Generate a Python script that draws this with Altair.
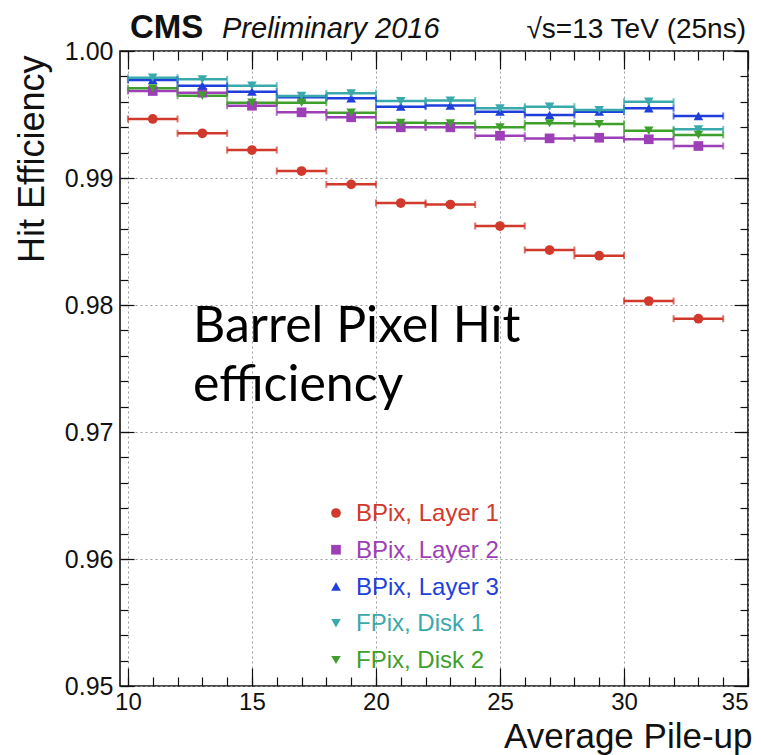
import altair as alt
import pandas as pd

# Average pile-up bin centres (bins are 2 units wide)
pileup = [11, 13, 15, 17, 19, 21, 23, 25, 27, 29, 31, 33]
bin_half_width = 1.0

series_names = ["BPix, Layer 1", "BPix, Layer 2", "BPix, Layer 3", "FPix, Disk 1", "FPix, Disk 2"]
series_colors = ["#d0392b", "#9d3fb6", "#1f3fdc", "#3aa9ab", "#3f9f2c"]
series_shapes = ["circle", "square", "triangle-up", "triangle-down", "triangle-down"]
marker_sizes = [95, 90, 70, 85, 40]
legend_sizes = [55, 55, 40, 50, 25]

# Hit efficiency per pile-up bin
bpix_layer1 = [0.99465, 0.99352, 0.99220, 0.99055, 0.98950, 0.98803,
               0.98791, 0.98622, 0.98433, 0.98388, 0.98031, 0.97892]
bpix_layer2 = [0.99685, 0.99672, 0.99569, 0.99517, 0.99478, 0.99399,
               0.99399, 0.99333, 0.99312, 0.99317, 0.99305, 0.99252]
bpix_layer3 = [0.99772, 0.99727, 0.99680, 0.99635, 0.99628, 0.99562,
               0.99570, 0.99522, 0.99496, 0.99522, 0.99549, 0.99488]
fpix_disk1 = [0.99790, 0.99777, 0.99727, 0.99646, 0.99667, 0.99606,
              0.99610, 0.99549, 0.99562, 0.99535, 0.99601, 0.99383]
fpix_disk2 = [0.99706, 0.99648, 0.99593, 0.99593, 0.99514, 0.99435,
              0.99431, 0.99399, 0.99431, 0.99425, 0.99373, 0.99339]

# Statistical uncertainty on the efficiency
bpix_layer1_err = [0.00005, 0.00005, 0.00006, 0.00006, 0.00007, 0.00008,
                   0.00008, 0.00010, 0.00010, 0.00013, 0.00025, 0.00018]
bpix_layer2_err = [0.00004, 0.00004, 0.00004, 0.00005, 0.00005, 0.00006,
                   0.00006, 0.00007, 0.00008, 0.00009, 0.00012, 0.00012]
bpix_layer3_err = [0.00004, 0.00004, 0.00004, 0.00005, 0.00005, 0.00006,
                   0.00006, 0.00007, 0.00008, 0.00009, 0.00012, 0.00010]
fpix_disk1_err = [0.00005, 0.00005, 0.00005, 0.00006, 0.00006, 0.00007,
                  0.00008, 0.00009, 0.00011, 0.00020, 0.00030, 0.00022]
fpix_disk2_err = [0.00005, 0.00005, 0.00005, 0.00006, 0.00006, 0.00007,
                  0.00008, 0.00009, 0.00011, 0.00015, 0.00018, 0.00016]

x_major = [10, 15, 20, 25, 30, 35]
x_minor = list(range(10, 36))
y_major = [0.95, 0.96, 0.97, 0.98, 0.99, 1.00]
y_minor = [round(0.95 + 0.002 * i, 3) for i in range(26)]

rows = []
for name, effs, errs in zip(
    series_names,
    [bpix_layer1, bpix_layer2, bpix_layer3, fpix_disk1, fpix_disk2],
    [bpix_layer1_err, bpix_layer2_err, bpix_layer3_err, fpix_disk1_err, fpix_disk2_err],
):
    for x, e, de in zip(pileup, effs, errs):
        rows.append({
            "series": name, "pileup": x,
            "lo": x - bin_half_width, "hi": x + bin_half_width,
            "eff": e, "eff_lo": e - de, "eff_hi": e + de,
        })
df = pd.DataFrame(rows)

FONT = "Liberation Sans"
W, H = 628, 635

x_scale = alt.Scale(domain=[9.68, 35], nice=False, zero=False)
y_scale = alt.Scale(domain=[0.95, 1.0], nice=False, zero=False)
color = alt.Color("series:N", scale=alt.Scale(domain=series_names, range=series_colors), legend=None)


def tick_axis(orient, values, size):
    # inward-pointing ticks: pull the axis inside the frame by its tick length
    return alt.Axis(orient=orient, values=values, tickSize=size, offset=-size,
                    labels=False, domain=False, grid=False, title=None,
                    ticks=True, tickColor="#111111", tickWidth=1.2)


grid_style = dict(grid=True, gridDash=[2, 3], gridColor="#9a9a9a", gridWidth=1)

x_label_axis = alt.Axis(
    orient="bottom", values=x_major, format="d", labelFont=FONT, labelFontSize=24,
    labelColor="#111111", labelPadding=4, ticks=False, domain=False,
    title="Average Pile-up", titleFont=FONT, titleFontSize=35, titleFontWeight="normal",
    titleColor="#111111", titleX=632, titleY=61, titleAlign="right",
    titleBaseline="alphabetic", **grid_style)
y_label_axis = alt.Axis(
    orient="left", values=y_major, format=".2f", labelFont=FONT, labelFontSize=25,
    labelColor="#111111", labelPadding=7, ticks=False, domain=False,
    title="Hit Efficiency", titleFont=FONT, titleFontSize=36, titleFontWeight="normal",
    titleColor="#111111", titleX=-88, titleY=4, titleAlign="right", titleAngle=270,
    titleBaseline="middle", **grid_style)

base = alt.Chart(df)

# horizontal bin-width bars
hbars = base.mark_rule(strokeWidth=2.5).encode(
    x=alt.X("lo:Q", scale=x_scale, axis=x_label_axis),
    x2="hi:Q",
    y=alt.Y("eff:Q", scale=y_scale, axis=y_label_axis),
    color=color,
)

# end caps on the bin-width bars
caps_lo = base.mark_tick(orient="vertical", size=7, thickness=2).encode(
    x=alt.X("lo:Q", scale=x_scale, axis=tick_axis("top", x_major, 18)),
    y=alt.Y("eff:Q", scale=y_scale, axis=tick_axis("right", y_major, 14)),
    color=color,
)
caps_hi = base.mark_tick(orient="vertical", size=7, thickness=2).encode(
    x=alt.X("hi:Q", scale=x_scale, axis=tick_axis("top", x_minor, 9)),
    y=alt.Y("eff:Q", scale=y_scale, axis=tick_axis("right", y_minor, 8)),
    color=color,
)

# vertical statistical error bars
vbars = base.mark_rule(strokeWidth=2).encode(
    x=alt.X("pileup:Q", scale=x_scale, axis=tick_axis("bottom", x_major, 18)),
    y=alt.Y("eff_lo:Q", scale=y_scale, axis=tick_axis("left", y_major, 14)),
    y2="eff_hi:Q",
    color=color,
)

points = base.mark_point(filled=True, opacity=1).encode(
    x=alt.X("pileup:Q", scale=x_scale, axis=tick_axis("bottom", x_minor, 9)),
    y=alt.Y("eff:Q", scale=y_scale, axis=tick_axis("left", y_minor, 8)),
    color=color,
    shape=alt.Shape("series:N", scale=alt.Scale(domain=series_names, range=series_shapes), legend=None),
    size=alt.Size("series:N", scale=alt.Scale(domain=series_names, range=marker_sizes), legend=None),
)

main = alt.layer(hbars, caps_lo, caps_hi, vbars, points).resolve_axis(x="independent", y="independent")

# legend drawn in the plot area, labels coloured like their series
legend_df = pd.DataFrame({"series": series_names})
legend_y = alt.Y("series:N", scale=alt.Scale(type="point", domain=series_names, range=[462, 609], padding=0), axis=None)
legend_marks = alt.Chart(legend_df).mark_point(filled=True, opacity=1).encode(
    x=alt.value(216), y=legend_y, color=color,
    shape=alt.Shape("series:N", scale=alt.Scale(domain=series_names, range=series_shapes), legend=None),
    size=alt.Size("series:N", scale=alt.Scale(domain=series_names, range=legend_sizes), legend=None),
)
legend_text = alt.Chart(legend_df).mark_text(
    font=FONT, fontSize=24, align="left", baseline="middle", dy=1
).encode(x=alt.value(236), y=legend_y, color=color, text="series:N")
legend = alt.layer(legend_marks, legend_text)


def label(text, x, y, **style):
    return alt.Chart(pd.DataFrame({"t": [text]})).mark_text(**style).encode(
        x=alt.value(x), y=alt.value(y), text="t:N")


cms = label("CMS", 10, -13, font=FONT, fontSize=33, fontWeight="bold", align="left",
            baseline="alphabetic", color="#111111")
prelim = label("Preliminary 2016", 102, -13, font=FONT, fontSize=29, fontStyle="italic",
               align="left", baseline="alphabetic", color="#111111")
energy = label("\u221as=13 TeV (25ns)", 626, -13, font=FONT, fontSize=28, align="right",
               baseline="alphabetic", color="#111111")
note1 = label("Barrel Pixel Hit", 73, 291, font="Lato", fontSize=50, align="left",
              baseline="alphabetic", color="#000000")
note2 = label("efficiency", 73, 350, font="Lato", fontSize=50, align="left",
              baseline="alphabetic", color="#000000")

chart = alt.layer(main, legend, cms, prelim, energy, note1, note2).resolve_scale(
    y="independent"
).resolve_axis(x="independent", y="independent").properties(
    width=W, height=H,
    autosize=alt.AutoSizeParams(type="none"),
    padding={"left": 120, "top": 51, "right": 13, "bottom": 69},
    background="white",
).configure_view(stroke="#111111", strokeWidth=1.6)

chart.save("out.html", embed_options={"renderer": "svg", "actions": False})
